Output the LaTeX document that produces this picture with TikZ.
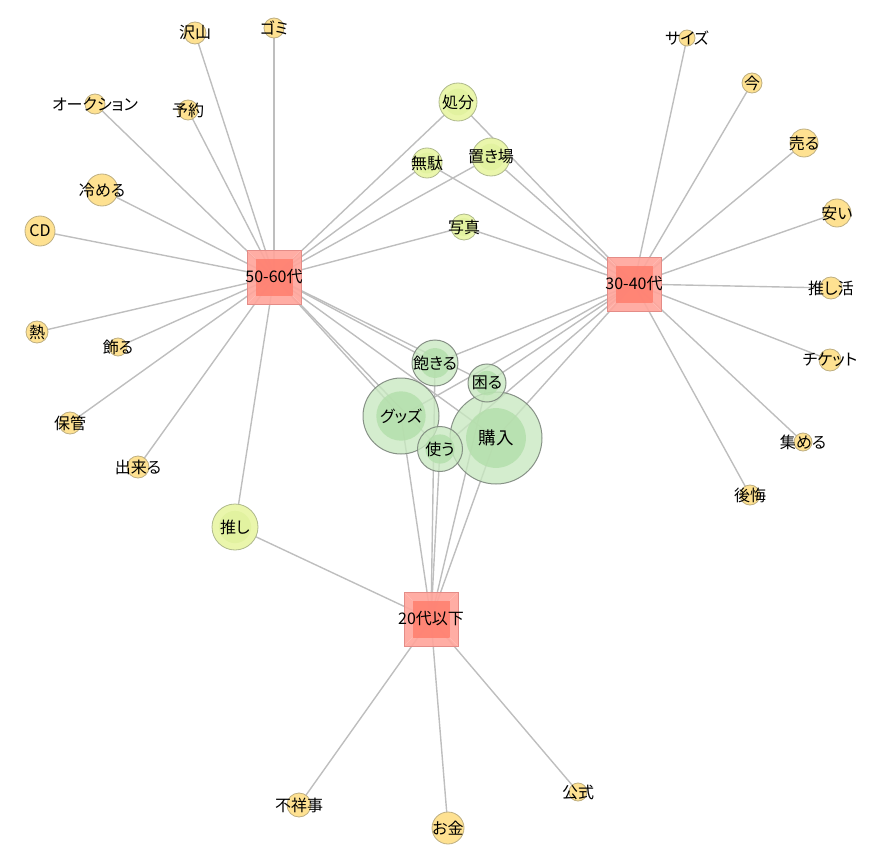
\documentclass[tikz,border=0pt]{standalone}
\usepackage{fontspec}
\newfontfamily\jp[CharacterWidth=AlternateProportional]{Noto Sans CJK JP}
\usetikzlibrary{backgrounds}
\definecolor{edgec}{RGB}{190,190,190}
\definecolor{yfill}{RGB}{254,225,145}
\definecolor{ydraw}{RGB}{190,175,130}
\definecolor{lgfill}{RGB}{234,246,172}
\definecolor{lgin}{RGB}{226,242,160}
\definecolor{lgdraw}{RGB}{175,185,140}
\definecolor{gout}{RGB}{200,232,192}
\definecolor{gin}{RGB}{178,222,170}
\definecolor{gdraw}{RGB}{125,135,125}
\definecolor{sqout}{RGB}{255,166,156}
\definecolor{sqin}{RGB}{255,130,114}
\definecolor{sqdraw}{RGB}{228,140,135}
\definecolor{sqbevel}{RGB}{255,188,180}
\begin{document}
\begin{tikzpicture}[x=1pt,y=-1pt,
  lbl/.style={font=\jp\fontsize{16}{16}\selectfont, inner sep=0, text=black, fill opacity=1, text opacity=1},
  biglbl/.style={font=\jp\fontsize{17.5}{17.5}\selectfont, inner sep=0, text=black, fill opacity=1, text opacity=1},
  ynode/.style={circle, inner sep=0, minimum size={2*#1 pt}, fill=yfill, draw=ydraw, line width=0.8pt},
  lgnode/.style={circle, inner sep=0, minimum size={2*#1 pt}, fill=lgfill, draw=lgdraw, line width=0.8pt,
    path picture={\fill[lgin] (path picture bounding box.center) circle[radius={0.7*#1 pt}];}},
  gnode/.style={circle, inner sep=0, minimum size={2*#1 pt}, fill=gout, fill opacity=0.78, draw=gdraw, draw opacity=0.9, line width=1pt,
    path picture={\fill[gin] (path picture bounding box.center) circle[radius={0.65*#1 pt}];}},
  sqnode/.style={rectangle, inner sep=0, minimum size=54pt, fill=sqout, fill opacity=0.92, draw=sqdraw, line width=0.8pt,
    path picture={
      \fill[sqin] ([xshift=-18.5pt,yshift=-18.5pt]path picture bounding box.center) rectangle ([xshift=18.5pt,yshift=18.5pt]path picture bounding box.center);
      \draw[sqbevel, line width=0.6pt] (path picture bounding box.north west) -- ([xshift=-18.5pt,yshift=18.5pt]path picture bounding box.center)
        (path picture bounding box.north east) -- ([xshift=18.5pt,yshift=18.5pt]path picture bounding box.center)
        (path picture bounding box.south west) -- ([xshift=-18.5pt,yshift=-18.5pt]path picture bounding box.center)
        (path picture bounding box.south east) -- ([xshift=18.5pt,yshift=-18.5pt]path picture bounding box.center);}},
  edge/.style={draw=edgec, line width=1.4pt}
]
\useasboundingbox (0,0) rectangle (895,856);

% age group squares
\node[sqnode, label={[lbl]center:50-60代}] (s5060) at (274,277) {};
\node[sqnode, label={[lbl]center:30-40代}] (s3040) at (634,284) {};
\node[sqnode, label={[lbl]center:20代以下}] (s20) at (431,619) {};

% yellow leaves
\node[ynode=11, label={[lbl]center:沢山}] (takusan) at (195,33) {};
\node[ynode=10, label={[lbl]center:ゴミ}] (gomi) at (274,28) {};
\node[ynode=10, label={[lbl]center:オークション}] (auction) at (95,104) {};
\node[ynode=10, label={[lbl]center:予約}] (yoyaku) at (188,110) {};
\node[ynode=16, label={[lbl]center:冷める}] (sameru) at (102,190) {};
\node[ynode=15, label={[lbl]center:CD}] (cd) at (40,231) {};
\node[ynode=11, label={[lbl]center:熱}] (netsu) at (37,332) {};
\node[ynode=9, label={[lbl]center:飾る}] (kazaru) at (118,347) {};
\node[ynode=11, label={[lbl]center:保管}] (hokan) at (70,423) {};
\node[ynode=11, label={[lbl]center:出来る}] (dekiru) at (138,467) {};
\node[ynode=8, label={[lbl]center:サイズ}] (size) at (687,38) {};
\node[ynode=10, label={[lbl]center:今}] (ima) at (752,83) {};
\node[ynode=14, label={[lbl]center:売る}] (uru) at (804,143) {};
\node[ynode=14, label={[lbl]center:安い}] (yasui) at (837,213) {};
\node[ynode=11, label={[lbl]center:推し活}] (oshikatsu) at (831,288) {};
\node[ynode=11, label={[lbl]center:チケット}] (ticket) at (830,360) {};
\node[ynode=9, label={[lbl]center:集める}] (atsumeru) at (803,442) {};
\node[ynode=10, label={[lbl]center:後悔}] (kokai) at (750,495) {};
\node[ynode=12, label={[lbl]center:不祥事}] (fushoji) at (299,805) {};
\node[ynode=16, label={[lbl]center:お金}] (okane) at (448,828) {};
\node[ynode=9, label={[lbl]center:公式}] (koshiki) at (578,792) {};

% light green-yellow nodes
\node[lgnode=19, label={[lbl]center:処分}] (shobun) at (458,102) {};
\node[lgnode=15, label={[lbl]center:無駄}] (muda) at (427,163) {};
\node[lgnode=19, label={[lbl]center:置き場}] (okiba) at (491,157) {};
\node[lgnode=13, label={[lbl]center:写真}] (shashin) at (464,227) {};
\node[lgnode=23, label={[lbl]center:推し}] (oshi) at (235,527) {};

% green shared nodes
\node[gnode=38, label={[lbl]center:グッズ}] (goods) at (401,416) {};
\node[gnode=23, label={[lbl]center:飽きる}] (akiru) at (435,363) {};
\node[gnode=46, label={[biglbl]center:購入}] (konyu) at (496,438) {};
\node[gnode=19, label={[lbl]center:困る}] (komaru) at (487,383) {};
\node[gnode=22.5, label={[lbl]center:使う}] (tsukau) at (440,449) {};

\begin{scope}[on background layer]
\foreach \t in {takusan,gomi,auction,yoyaku,sameru,cd,netsu,kazaru,hokan,dekiru,oshi,shobun,muda,okiba,shashin,akiru,komaru,goods,tsukau,konyu}
  \draw[edge] (s5060.center) -- (\t.center);
\foreach \t in {size,ima,uru,yasui,oshikatsu,ticket,atsumeru,kokai,shobun,muda,okiba,shashin,akiru,komaru,goods,tsukau,konyu}
  \draw[edge] (s3040.center) -- (\t.center);
\foreach \t in {oshi,fushoji,okane,koshiki,akiru,komaru,goods,tsukau,konyu}
  \draw[edge] (s20.center) -- (\t.center);
\end{scope}
\end{tikzpicture}
\end{document}
